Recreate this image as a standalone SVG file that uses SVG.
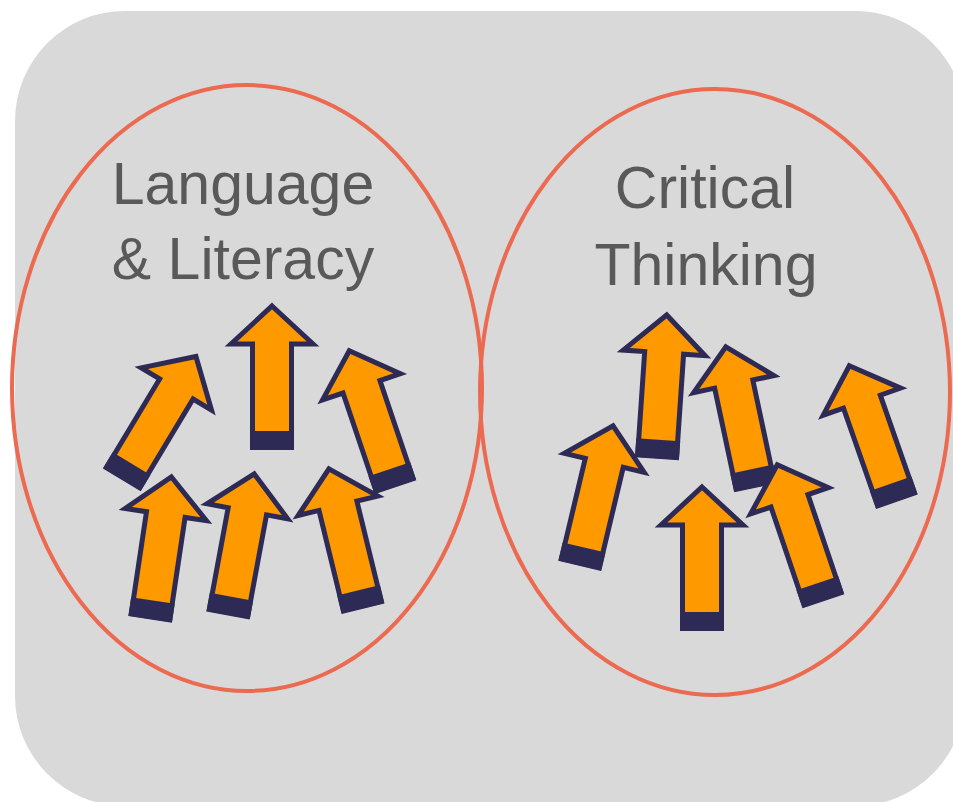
<svg xmlns="http://www.w3.org/2000/svg" xmlns:xlink="http://www.w3.org/1999/xlink" width="953" height="802" viewBox="0 0 953 802">
<style>
.bg{fill:#D9D9D9}
.oval{fill:none;stroke:#EB6A50;stroke-width:4}
.lbl{font-family:"Liberation Sans",Arial,sans-serif;font-size:59px;fill:#595959;text-anchor:middle}
.body{fill:#FF9900;stroke:#2D2A55;stroke-width:5;stroke-linejoin:miter}
.band{fill:#2D2A55}
</style>
<defs>
<g id="arrow">
<polygon class="body" points="0,4 41,42 19.5,42 19.5,145 -19.5,145 -19.5,42 -41,42"/>
<rect class="band" x="-22" y="129" width="44" height="19"/>
</g>
</defs>
<rect class="bg" x="15" y="11" width="950" height="795" rx="110" ry="110"/>
<g id="circle-language">
<ellipse class="oval" cx="247" cy="388" rx="235" ry="303"/>
<text class="lbl" x="243" y="204">Language</text>
<text class="lbl" x="243" y="279">&amp; Literacy</text>
</g>
<g id="circle-critical">
<ellipse class="oval" cx="715" cy="392" rx="235" ry="303"/>
<text class="lbl" x="705" y="208">Critical</text>
<text class="lbl" x="706" y="285">Thinking</text>
</g>
<g id="arrows-language">
<g id="arrow-a"><use xlink:href="#arrow" transform="translate(272,302) rotate(0)"/></g>
<g id="arrow-b"><use xlink:href="#arrow" transform="translate(198,353) rotate(31)"/></g>
<g id="arrow-c"><use xlink:href="#arrow" transform="translate(348,347) rotate(-18.7)"/></g>
<g id="arrow-d"><use xlink:href="#arrow" transform="translate(172,473) rotate(8.5)"/></g>
<g id="arrow-e"><use xlink:href="#arrow" transform="translate(255,470) rotate(10.5)"/></g>
<g id="arrow-f"><use xlink:href="#arrow" transform="translate(328,465) rotate(-13.7)"/></g>
</g>
<g id="arrows-critical">
<g id="arrow-g"><use xlink:href="#arrow" transform="translate(667,311) rotate(3.9)"/></g>
<g id="arrow-h"><use xlink:href="#arrow" transform="translate(725,343) rotate(-12)"/></g>
<g id="arrow-i"><use xlink:href="#arrow" transform="translate(848,362) rotate(-19.3)"/></g>
<g id="arrow-j"><use xlink:href="#arrow" transform="translate(614,422) rotate(13.4)"/></g>
<g id="arrow-k"><use xlink:href="#arrow" transform="translate(702,483) rotate(0)"/></g>
<g id="arrow-l"><use xlink:href="#arrow" transform="translate(776,461) rotate(-18.7)"/></g>
</g>
</svg>
